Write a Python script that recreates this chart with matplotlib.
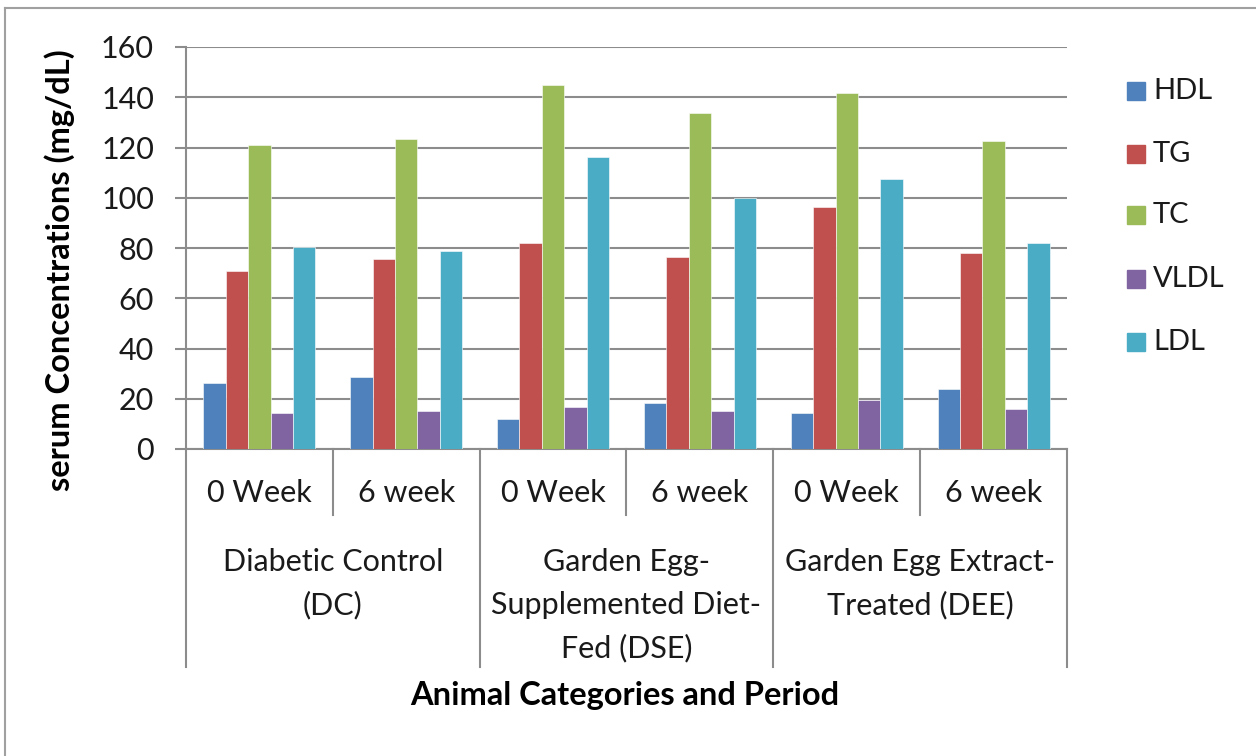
import matplotlib
matplotlib.use("Agg")
import matplotlib.pyplot as plt
import matplotlib.transforms as mtransforms
from matplotlib.lines import Line2D
from matplotlib.patches import Rectangle
import numpy as np

plt.rcParams['font.family'] = ['Lato', 'DejaVu Sans']

periods = ["0 Week", "6 week", "0 Week", "6 week", "0 Week", "6 week"]
groups = ["Diabetic Control\n(DC)", "Garden Egg-\nSupplemented Diet-\nFed (DSE)", "Garden Egg Extract-\nTreated (DEE)"]
series_names = ["HDL", "TG", "TC", "VLDL", "LDL"]
HDL = [26.3, 28.6, 11.9, 18.3, 14.3, 23.9]
TG = [71.0, 75.6, 82.1, 76.4, 96.4, 78.1]
TC = [121.1, 123.3, 145.0, 133.8, 141.8, 122.7]
VLDL = [14.3, 15.1, 16.6, 15.1, 19.6, 15.9]
LDL = [80.2, 78.8, 116.3, 99.9, 107.6, 82.1]
colors = ["#4F81BD", "#C0504D", "#9BBB59", "#8064A2", "#4BACC6"]
yticks = [0, 20, 40, 60, 80, 100, 120, 140, 160]

W, H = 1256, 756
fig = plt.figure(figsize=(W / 100, H / 100), dpi=100)
L, R, T, B = 186, 1067, 47, 449
ax = fig.add_axes([L / W, 1 - B / H, (R - L) / W, (B - T) / H])

data = [HDL, TG, TC, VLDL, LDL]
x = np.arange(len(periods))
bw = 0.1526
for i, (vals, c, name) in enumerate(zip(data, colors, series_names)):
    ax.bar(x + (i - 2) * bw, vals, width=bw, color=c, label=name, zorder=3,
           edgecolor='white', linewidth=0.4)

FS = 22
ax.set_xlim(-0.5, len(periods) - 0.5)
ax.set_ylim(0, 160)
ax.set_yticks(yticks)
ax.yaxis.grid(True, color='#8c8c8c', linewidth=1.5, zorder=0)
ax.set_xticks([])
for s in ['top', 'right']:
    ax.spines[s].set_visible(False)
ax.spines['left'].set_color('#8c8c8c')
ax.spines['left'].set_linewidth(1.5)
ax.spines['bottom'].set_color('#8c8c8c')
ax.spines['bottom'].set_linewidth(1.5)
ax.tick_params(axis='y', length=8, width=1.5, color='#8c8c8c', pad=15,
               labelsize=FS, labelcolor='#1a1a1a')

axh = B - T
trans = mtransforms.blended_transform_factory(ax.transData, ax.transAxes)
# sub-category dividers
for k in range(len(periods) + 1):
    if k % 2 == 0:
        y1 = -(667 - B) / axh
    else:
        y1 = -(515 - B) / axh
    ax.add_line(Line2D([k - 0.5, k - 0.5], [0, y1], transform=trans, color='#8c8c8c',
                       linewidth=1.5, clip_on=False))

for k, p in enumerate(periods):
    ax.text(k, -(493 - B) / axh, p, transform=trans, ha='center', va='center',
            fontsize=FS, color='#1a1a1a')

for g, name in enumerate(groups):
    for j, line in enumerate(name.split("\n")):
        ax.text(2 * g + 0.5, -(562 + 43 * j - B) / axh, line, transform=trans,
                ha='center', va='center', fontsize=FS, color='#1a1a1a')

fig.text(625 / W, 1 - 695 / H, "Animal Categories and Period", ha='center', va='center',
         fontsize=23.5, fontweight='bold', color='#000000')
fig.text(60 / W, 1 - 270 / H, "serum Concentrations (mg/dL)", ha='center', va='center',
         rotation=90, fontsize=23.5, fontweight='bold', color='#000000')

# legend
leg_y = [91, 154, 215, 279, 342]
for name, c, yy in zip(series_names, colors, leg_y):
    fig.patches.append(Rectangle((1127 / W, 1 - (yy + 9) / H), 18 / W, 18 / H,
                                 transform=fig.transFigure, color=c))
    fig.text(1153 / W, 1 - yy / H, name, ha='left', va='center', fontsize=21, color='#1a1a1a')

# outer frame (left and top visible)
fig.add_artist(Line2D([5 / W, 5 / W], [0, 1 - 8 / H], transform=fig.transFigure,
                      color='#a0a0a0', linewidth=1.5))
fig.add_artist(Line2D([5 / W, 1], [1 - 8 / H, 1 - 8 / H], transform=fig.transFigure,
                      color='#a0a0a0', linewidth=1.5))

fig.savefig("out.png", dpi=100)
